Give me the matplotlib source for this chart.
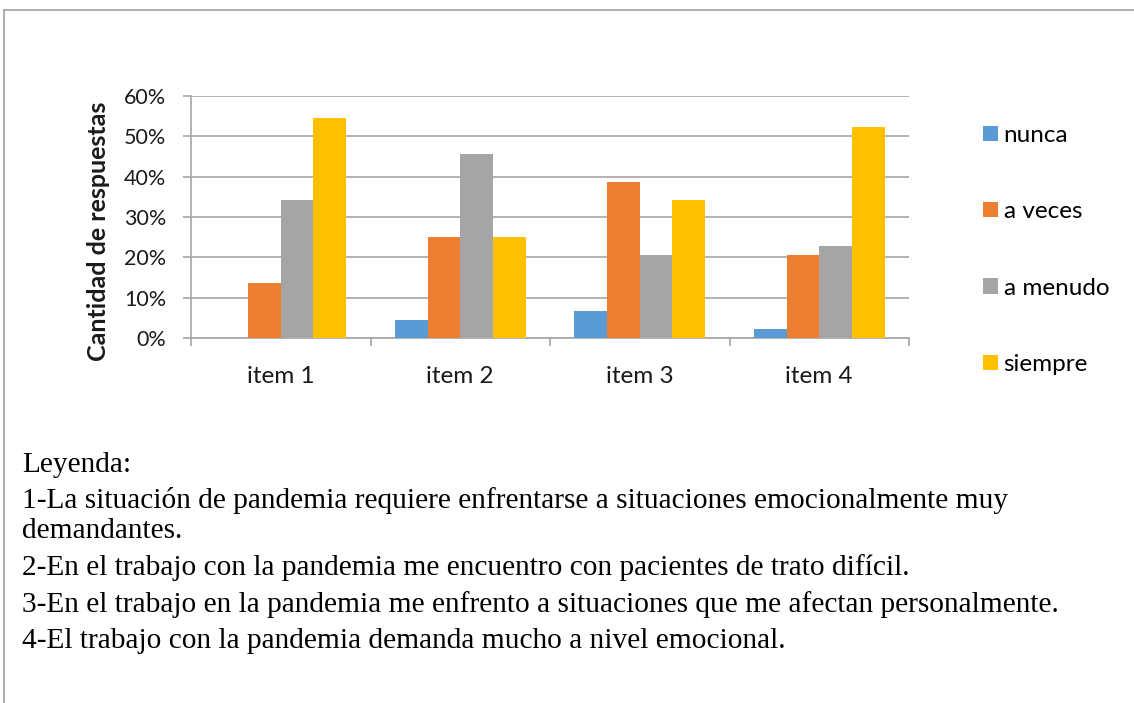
import matplotlib
matplotlib.use("Agg")
import matplotlib.pyplot as plt
import numpy as np
from matplotlib.patches import Patch
from matplotlib.lines import Line2D

categories = ["item 1", "item 2", "item 3", "item 4"]
series_names = ["nunca", "a veces", "a menudo", "siempre"]
nunca = [0.0, 4.5, 6.8, 2.3]
a_veces = [13.6, 25.0, 38.6, 20.5]
a_menudo = [34.1, 45.5, 20.5, 22.7]
siempre = [54.5, 25.0, 34.1, 52.3]
colors = ["#5B9BD5", "#ED7D31", "#A5A5A5", "#FFC000"]
yticks = [0, 10, 20, 30, 40, 50, 60]
leyenda = [
    "Leyenda:",
    "1-La situación de pandemia requiere enfrentarse a situaciones emocionalmente muy",
    "demandantes.",
    "2-En el trabajo con la pandemia me encuentro con pacientes de trato difícil.",
    "3-En el trabajo en la pandemia me enfrento a situaciones que me afectan personalmente.",
    "4-El trabajo con la pandemia demanda mucho a nivel emocional.",
]

W, H = 1134, 703
fig = plt.figure(figsize=(W / 100, H / 100), dpi=100)
fig.patch.set_facecolor("white")

# frame lines (page border)
fig.add_artist(Line2D([4 / W, 4 / W], [0, 1 - 10 / H], color="#A0A0A0", lw=1.2))
fig.add_artist(Line2D([4 / W, 1], [1 - 10 / H, 1 - 10 / H], color="#A0A0A0", lw=1.2))

ax = fig.add_axes([191 / W, (H - 338) / H, (909 - 191) / W, (338 - 96) / H])
sans = ["Lato", "DejaVu Sans"]

x = np.arange(len(categories))
bw = 0.182
data = [nunca, a_veces, a_menudo, siempre]
for i, (vals, name, c) in enumerate(zip(data, series_names, colors)):
    ax.bar(x + (i - 1.5) * bw, vals, width=bw, color=c, label=name, zorder=3)

ax.set_xlim(-0.5, 3.5)
ax.set_ylim(0, 60)
ax.set_yticks(yticks)
ax.set_yticklabels([f"{v}%" for v in yticks], fontfamily=sans, fontsize=15.5, color="#1a1a1a")
ax.yaxis.grid(True, color="#A6A6A6", lw=1.2, zorder=0)
ax.tick_params(axis="y", length=6, width=1.2, color="#A6A6A6", pad=12)

ax.set_xticks(np.arange(-0.5, 4.0, 1.0))
ax.set_xticklabels([])
ax.tick_params(axis="x", which="major", length=6, width=1.2, color="#A6A6A6")
ax.set_xticks(x, minor=True)
ax.set_xticklabels(categories, minor=True, fontfamily=sans, fontsize=17.5, color="#1a1a1a")
ax.tick_params(axis="x", which="minor", length=0, pad=20)

for s in ["top", "right"]:
    ax.spines[s].set_visible(False)
for s in ["left", "bottom"]:
    ax.spines[s].set_color("#A6A6A6")
    ax.spines[s].set_linewidth(1.2)

ax.set_ylabel("Cantidad de respuestas", fontfamily=sans, fontsize=18, fontweight="bold", color="#1a1a1a")
ax.yaxis.set_label_coords(-0.113, 0.44)

handles = [Patch(facecolor=c, edgecolor="none") for c in colors]
fig.legend(handles, series_names, loc="center left",
           bbox_to_anchor=(983 / W, (H - 250) / H), frameon=False,
           prop={"family": sans, "size": 17.5}, handlelength=0.6, handleheight=0.6,
           handletextpad=0.25, labelspacing=2.28, borderpad=0, borderaxespad=0)

ys = [465, 500, 531, 568, 605, 641]
for t, yy in zip(leyenda, ys):
    fig.text(22 / W, (H - yy) / H, t, fontfamily=["Liberation Serif", "DejaVu Serif"],
             fontsize=21.2, color="black", va="center", ha="left")

fig.savefig("out.png", dpi=100, facecolor="white")
